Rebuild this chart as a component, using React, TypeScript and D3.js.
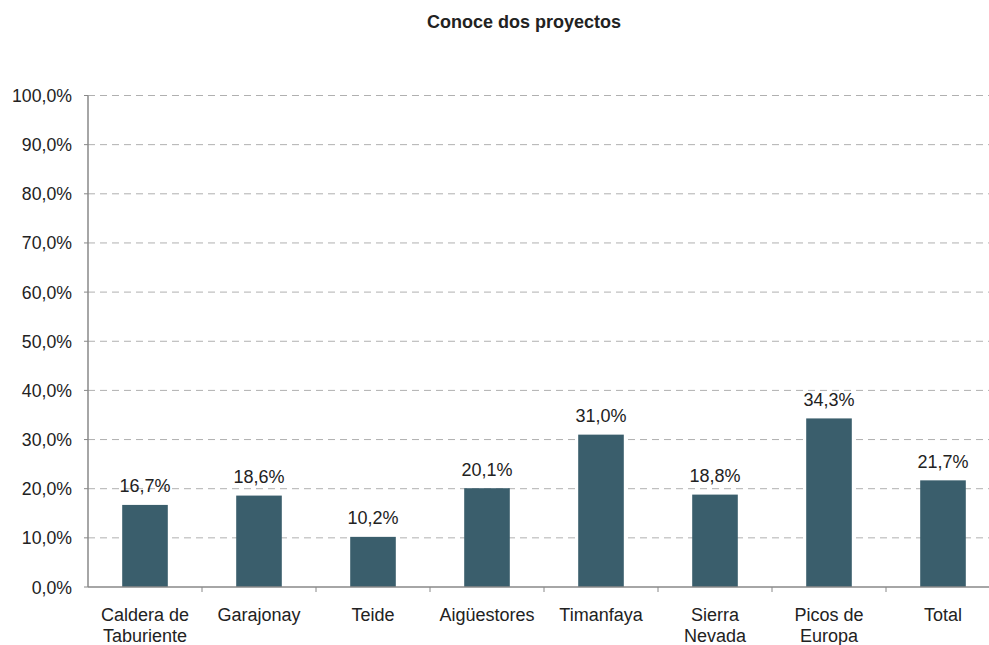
import React from "react";
import * as d3 from "d3";

const categories: string[][] = [
  ["Caldera de", "Taburiente"],
  ["Garajonay"],
  ["Teide"],
  ["Aigüestores"],
  ["Timanfaya"],
  ["Sierra", "Nevada"],
  ["Picos de", "Europa"],
  ["Total"],
];
const values: number[] = [16.7, 18.6, 10.2, 20.1, 31.0, 18.8, 34.3, 21.7];
const yTicks: number[] = [0, 10, 20, 30, 40, 50, 60, 70, 80, 90, 100];
const title = "Conoce dos proyectos";

const W = 989;
const H = 645;
const left = 88;
const right = 1000;
const top = 95.5;
const bottom = 587;
const font = "'Liberation Sans', Arial, sans-serif";
const fmt = (v: number) => v.toFixed(1).replace(".", ",") + "%";

export default function App() {
  const x = d3
    .scaleBand<number>()
    .domain(d3.range(categories.length))
    .range([left, right])
    .paddingInner(0)
    .paddingOuter(0);
  const y = d3.scaleLinear().domain([0, 100]).range([bottom, top]);
  const bw = x.bandwidth() * 0.4;

  return (
    <svg
      width={W}
      height={H}
      style={{ position: "absolute", left: 0, top: 0, background: "#fff" }}
      fontFamily={font}
    >
      <text x={524} y={27.5} textAnchor="middle" fontWeight="bold" fontSize={18} fill="#222">
        {title}
      </text>
      {yTicks.map((t) => (
        <g key={t}>
          {t > 0 && (
            <line
              x1={left}
              x2={W}
              y1={y(t)}
              y2={y(t)}
              stroke="#b0b0b0"
              strokeWidth={1}
              strokeDasharray="7,5"
            />
          )}
          <line x1={left - 4} x2={left} y1={y(t)} y2={y(t)} stroke="#888" />
          <text x={72} y={y(t) + 6.5} textAnchor="end" fontSize={17.7} fill="#222">
            {fmt(t)}
          </text>
        </g>
      ))}
      {values.map((v, i) => {
        const cx = x(i)! + x.bandwidth() / 2;
        return (
          <g key={i}>
            <rect x={cx - bw / 2} y={y(v)} width={bw} height={bottom - y(v)} fill="#3a5e6c" />
            <text x={cx} y={y(v) - 12.5} textAnchor="middle" fontSize={18} fill="#222">
              {fmt(v)}
            </text>
            {categories[i].map((line, j) => (
              <text key={j} x={cx} y={621 + j * 21} textAnchor="middle" fontSize={18} fill="#222">
                {line}
              </text>
            ))}
          </g>
        );
      })}
      {d3.range(1, categories.length).map((i) => (
        <line key={i} x1={x(i)!} x2={x(i)!} y1={bottom} y2={bottom + 5} stroke="#888" />
      ))}
      <line x1={left} x2={left} y1={top} y2={bottom} stroke="#888" strokeWidth={1.5} />
      <line x1={left} x2={W} y1={bottom} y2={bottom} stroke="#888" strokeWidth={1.5} />
    </svg>
  );
}
